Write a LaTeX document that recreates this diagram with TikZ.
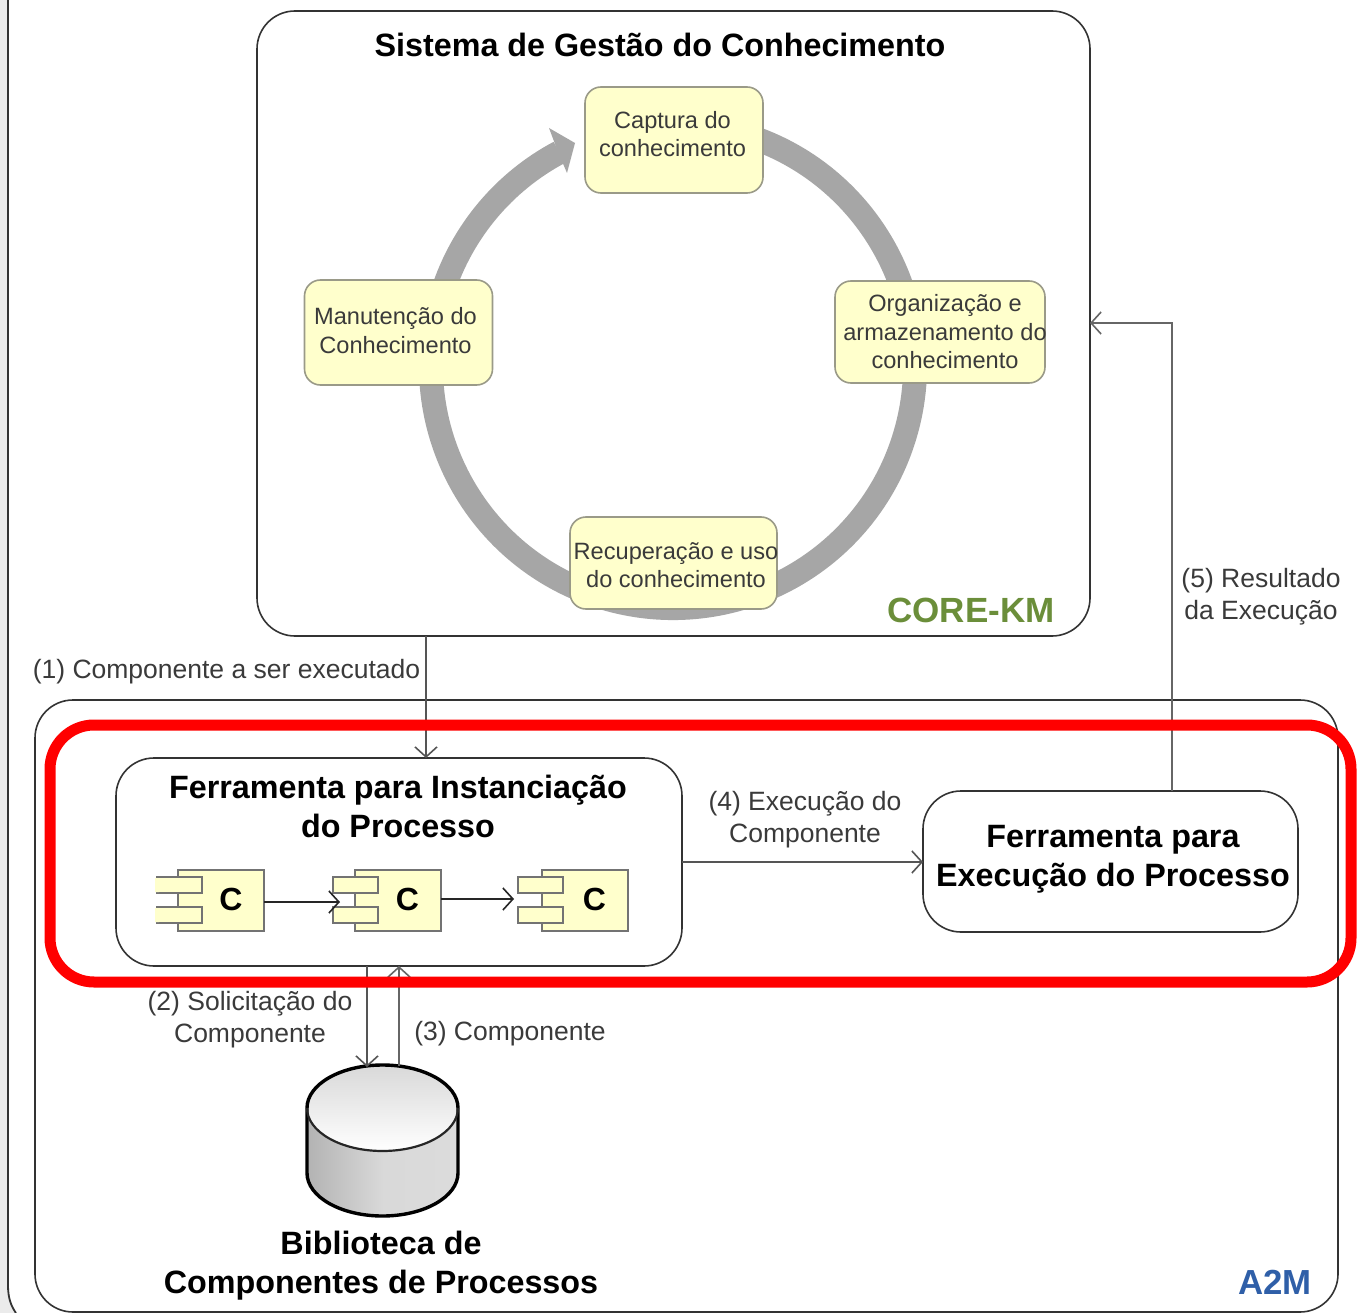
\documentclass[tikz,border=0pt]{standalone}
\usepackage{fontspec}
\setmainfont{Liberation Sans}
\usetikzlibrary{arrows.meta,shapes.geometric}
\definecolor{boxyellow}{HTML}{FFFFCC}
\definecolor{boxedge}{HTML}{9A9A88}
\definecolor{ringgray}{HTML}{A6A6A6}
\definecolor{linegray}{HTML}{555555}
\definecolor{labelgray}{HTML}{3A3A3A}
\definecolor{corekm}{HTML}{6B8E3A}
\definecolor{atwom}{HTML}{2F5FA8}
\newcommand{\fs}[2]{\fontsize{#1}{#2}\selectfont}
\newcommand{\tl}[3]{\makebox[0pt]{\hspace*{#1}\raisebox{#2}[\height][\depth]{#3}}}
\tikzset{
  x=1pt,y=-1pt,
  panel/.style={draw=black!80,line width=1.6pt,rounded corners=38pt,inner sep=0,outer sep=0,fill=white},
  stepbox/.style={draw=boxedge,line width=1.6pt,fill=boxyellow,rounded corners=16pt,inner sep=0,outer sep=0,align=center,text=labelgray,font=\fs{23.6}{28.5}},
  toolbox/.style={draw=black!80,line width=1.6pt,fill=white,rounded corners=38pt,inner sep=0,outer sep=0,align=center,font=\bfseries\fs{32.3}{39}},
  cbody/.style={draw=black!55,line width=2pt,fill=boxyellow,inner sep=0,outer sep=0,minimum width=86pt,minimum height=61pt,font=\bfseries\fs{32}{36}},
  cport/.style={draw=black!55,line width=2pt,fill=boxyellow,inner sep=0,outer sep=0,minimum width=45pt,minimum height=16pt},
  flow/.style={draw=linegray,line width=1.9pt,-{Straight Barb[length=10pt,width=22pt,line width=1.6pt]}},
  lab/.style={align=center,text=labelgray,font=\fs{26.5}{32},inner sep=0},
  head/.style={align=center,font=\bfseries\fs{32.3}{39},inner sep=0},
}
\begin{document}
\begin{tikzpicture}
\useasboundingbox (0,0) rectangle (1360,1313);
\fill[white] (0,0) rectangle (1360,1313);
% outer frame
\fill[black!8] (0,0) -- (8,0) -- (8,1285) .. controls (8,1298) and (11,1306) .. (16,1313) -- (0,1313) -- cycle;
\draw[black!80,line width=1.8pt] (8,0) -- (8,1285) .. controls (8,1298) and (11,1306) .. (16,1313);
% panels
\node[panel,minimum width=1303pt,minimum height=612pt,anchor=north west] (a2m) at (35,700) {};
\node[panel,minimum width=833pt,minimum height=625pt,anchor=north west] (core) at (257,11) {};
% ring
\draw[ringgray,line width=24pt] (673,366) ++(-72:242) arc[start angle=-72,end angle=242,radius=242];
\fill[ringgray] (549,128) -- (575,143) -- (567,173) -- (558,152) -- cycle;
% step boxes
\node[stepbox,minimum width=178pt,minimum height=106pt] (cap) at (674,140) {\tl{-3pt}{0pt}{Captura do}\\\tl{-3pt}{0pt}{conhecimento}\\[-16pt]\mbox{}};
\node[stepbox,minimum width=210pt,minimum height=102pt] (org) at (940,332) {\tl{10pt}{0pt}{Organização e}\\\tl{10pt}{0pt}{armazenamento do}\\\tl{10pt}{0pt}{conhecimento}};
\node[stepbox,minimum width=207pt,minimum height=92pt] (rec) at (673.5,563) {\tl{5pt}{-2pt}{Recuperação e uso}\\\tl{5pt}{-2pt}{do conhecimento}};
\node[stepbox,minimum width=188pt,minimum height=105pt] (man) at (398.5,332.5) {\tl{-6pt}{2pt}{Manutenção do}\\\tl{-6pt}{2pt}{Conhecimento}};
% tools
\node[toolbox,minimum width=566pt,minimum height=208pt] (inst) at (399,862) {};
\node[toolbox,minimum width=375pt,minimum height=141pt] (exec) at (1110.5,861.5) {\tl{5pt}{0pt}{Ferramenta para}\\\tl{5pt}{0pt}{Execução do Processo}\\[-27pt]\mbox{}};
% components
\node[cbody] (c1) at (221,900.5) {\hspace*{20pt}\raisebox{2pt}{C}};
\node[cport] (p1a) at (179.5,885) {};
\node[cport] (p1b) at (179.5,915) {};
\fill[boxyellow] (155,878) rectangle (159,892) (155,908) rectangle (159,922);
\node[cbody] (c2) at (397.5,900.5) {\hspace*{20pt}\raisebox{2pt}{C}};
\node[cport] (p2a) at (355.5,885) {};
\node[cport] (p2b) at (355.5,915) {};
\node[cbody] (c3) at (584.5,900.5) {\hspace*{20pt}\raisebox{2pt}{C}};
\node[cport] (p3a) at (540.5,885) {};
\node[cport] (p3b) at (540.5,915) {};
% cylinder
\shade[left color=black!30,right color=black!14,middle color=black!15] (307,1108) -- (307,1173) arc[x radius=75.5,y radius=43,start angle=180,end angle=0] -- (458,1108) -- cycle;
\shade[top color=black!15,bottom color=white] (382.5,1108.5) ellipse[x radius=75.5,y radius=43];
\draw[black,line width=3.4pt] (458,1108) arc[x radius=75.5,y radius=43,start angle=0,end angle=-180] -- (307,1173) arc[x radius=75.5,y radius=43,start angle=180,end angle=0] -- cycle;
\draw[black!85,line width=2.2pt] (307,1108) arc[x radius=75.5,y radius=43,start angle=180,end angle=0];
\node[inner sep=0,outer sep=0,minimum width=151pt,minimum height=150pt] (lib) at (382.5,1140) {};
% anchors for connectors
\coordinate (x1) at (426,0);
\coordinate (x2) at (367,0);
\coordinate (x3) at (399,0);
\coordinate (x5) at (1172,0);
\coordinate (y4) at (0,862);
\coordinate (y5) at (0,323);
\coordinate (y6) at (0,902);
\coordinate (y7) at (0,899);
\coordinate (b2) at (367,1067);
\coordinate (b3) at (399,1066);
\coordinate (a2) at (340,902);
\coordinate (a3) at (514,899);
% connectors
\draw[flow] (core.south -| x1) -- (inst.north -| x1);
\draw[flow] (inst.south -| x2) -- (b2);
\draw[flow,line width=2.4pt,draw=black!60] (b3) -- (inst.south -| x3);
\draw[flow] (inst.east |- y4) -- (exec.west |- y4);
\draw[flow,line width=2.4pt,draw=black!60] (exec.north -| x5) -- (x5 |- y5) -- (core.east |- y5);
\draw[flow,black!85] (c1.east |- y6) -- (a2);
\draw[flow,black!85] (c2.east |- y7) -- (a3);
% highlight
\draw[red,line width=11pt,rounded corners=44pt] (50,725) rectangle (1351,982);
% texts
\node[head] (t0) at (660,45) {Sistema de Gestão do Conhecimento};
\node[head] (t1) at (398,806) {Ferramenta para Instanciação\\do Processo};
\node[head] (t2) at (381,1266) {Biblioteca de\\Componentes de Processos};
\node[font=\bfseries\fs{35}{38},text=corekm,inner sep=0] (t3) at (971,610) {CORE-KM};
\node[font=\bfseries\fs{34.8}{38},text=atwom,inner sep=0] (t4) at (1275,1282) {A2M};
\node[lab] (l1) at (226.5,672) {(1) Componente a ser executado};
\node[lab] (l2) at (250,1020) {(2) Solicitação do\\Componente};
\node[lab] (l3) at (510,1034) {(3) Componente};
\node[lab] (l4) at (805,820) {(4) Execução do\\Componente};
\node[lab] (l5) at (1261,597) {(5) Resultado\\da Execução};
\end{tikzpicture}
\end{document}
